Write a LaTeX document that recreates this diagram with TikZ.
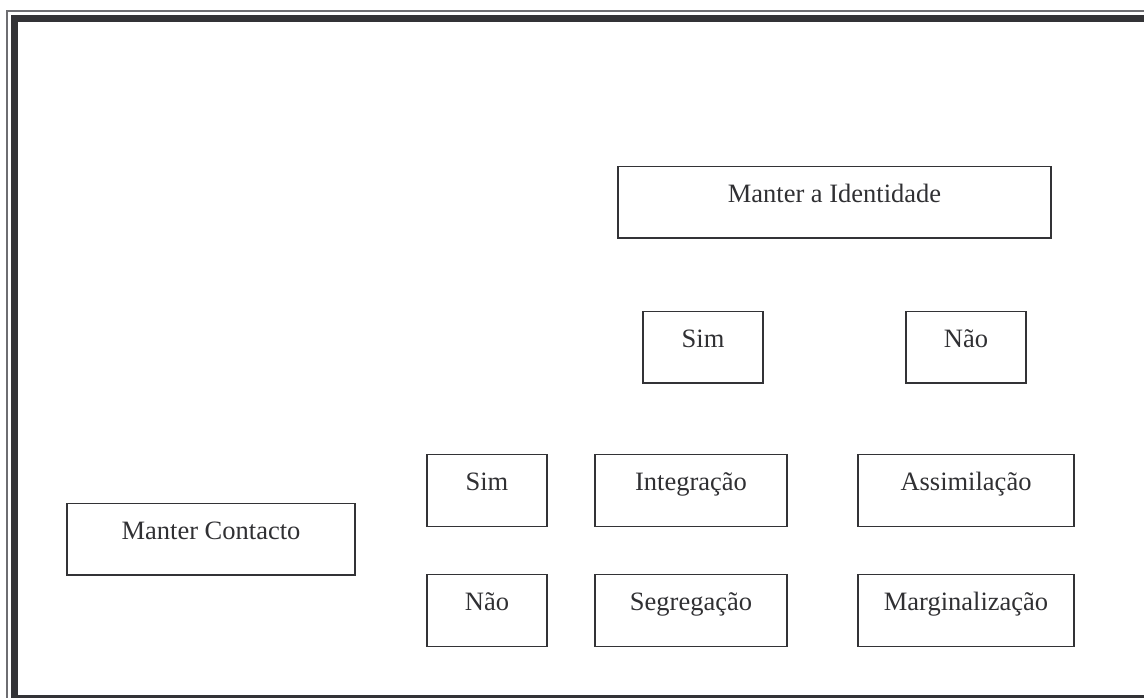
\documentclass[tikz,border=0pt]{standalone}
\usepackage{fontspec}
\setmainfont{Liberation Serif}
\usepackage{tikz}
\definecolor{frameGrey}{HTML}{333336}
\definecolor{thinGrey}{HTML}{6E6E72}
\definecolor{textGrey}{HTML}{303033}

\tikzset{
  choicebox/.style={draw=frameGrey, line width=1.4pt, text=textGrey,
    font=\fontsize{26.5}{30}\selectfont,
    text height=34pt, text depth=34pt, inner ysep=1.8pt, inner xsep=0pt,
    minimum width=#1},
  choicebox/.default=120pt
}

\begin{document}
\begin{tikzpicture}[x=1pt, y=-1pt]
  \useasboundingbox (0,0) rectangle (1144,697);
  \clip (0,0) rectangle (1144,697);

  % double frame, cut off at right and bottom
  \draw[thinGrey, line width=1.4pt] (7,11) rectangle (1190,740);
  \draw[frameGrey, line width=7pt] (14.5,18) rectangle (1170,698);

  % top row
  \node[choicebox=433pt] (ident) at (834.5,202) {Manter a Identidade};
  \node[choicebox] (simTop) at (703,347) {Sim};
  \node[choicebox] (naoTop) at (966,347) {Não};

  % left column
  \node[choicebox=288pt] (contacto) at (211,539) {Manter Contacto};
  \node[choicebox] (simLeft) at (487,490.5) {Sim};
  \node[choicebox] (naoLeft) at (487,610.5) {Não};

  % results
  \node[choicebox=192pt] (integ) at (691,490.5) {Integração};
  \node[choicebox=216pt] (assim) at (966,490.5) {Assimilação};
  \node[choicebox=192pt] (segreg) at (691,610.5) {Segregação};
  \node[choicebox=216pt] (margin) at (966,610.5) {Marginalização};
\end{tikzpicture}
\end{document}
